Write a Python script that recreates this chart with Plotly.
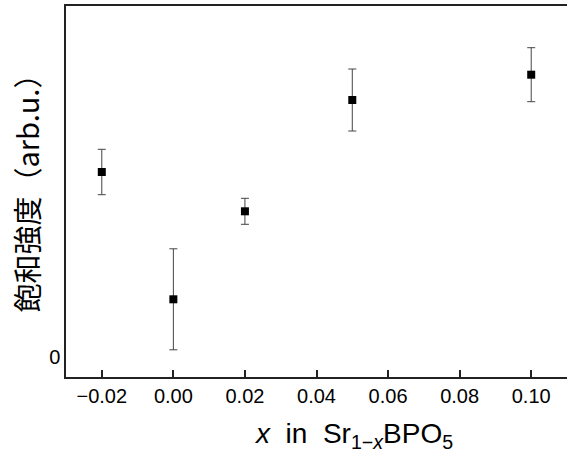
import plotly.graph_objects as go

x_vals = [-0.02, 0.00, 0.02, 0.05, 0.10]
intensity = [1.85, 0.577, 1.457, 2.57, 2.823]
err = [0.227, 0.505, 0.13, 0.31, 0.27]
x_ticks = [-0.02, 0.00, 0.02, 0.04, 0.06, 0.08, 0.10]
x_ticktext = ["\u22120.02", "0.00", "0.02", "0.04", "0.06", "0.08", "0.10"]

fig = go.Figure()
fig.add_trace(go.Scatter(
    x=x_vals, y=intensity, mode="markers",
    marker=dict(symbol="square", size=8, color="black"),
    error_y=dict(type="data", array=err, visible=True, color="#444", thickness=1, width=4),
    showlegend=False,
))

W, H = 567, 457
ml, mr, mt, mb = 66, 0, 6, 80
fig.update_layout(
    width=W, height=H,
    margin=dict(l=ml, r=mr, t=mt, b=mb),
    paper_bgcolor="white", plot_bgcolor="white",
    font=dict(family="Liberation Sans, Arial, sans-serif", size=20, color="black"),
)
fig.update_xaxes(
    range=[-0.03, 0.11], tickvals=x_ticks, ticktext=x_ticktext,
    showgrid=False, zeroline=False,
    showline=True, linecolor="#222", linewidth=1.5, mirror=True,
    ticks="inside", ticklen=7, tickwidth=1.5, tickcolor="#222",
    tickfont=dict(size=20),
)
fig.update_yaxes(
    range=[-0.20, 3.51], tickvals=[0], ticktext=["0"],
    showgrid=False, zeroline=False,
    showline=True, linecolor="#222", linewidth=1.5,
    ticks="", tickfont=dict(size=20),
)

pw = W - ml - mr
ph = H - mt - mb
fig.add_annotation(
    text="飽和強度（arb.u.）", textangle=-90,
    xref="paper", yref="paper",
    x=(25 - ml) / pw, y=(H - mb - 186.5) / ph,
    xanchor="center", yanchor="middle", showarrow=False,
    font=dict(family="Noto Sans CJK JP", size=29, color="black"),
)
fig.add_annotation(
    text="<i>x</i>  in  Sr<sub>1\u2212<i>x</i></sub>BPO<sub>5</sub>",
    xref="paper", yref="paper",
    x=(353 - ml) / pw, y=(H - mb - 435) / ph,
    xanchor="center", yanchor="middle", showarrow=False,
    font=dict(family="Liberation Sans Narrow, Arial Narrow, sans-serif", size=28, color="black"),
)

fig.write_html(
    "out.html",
    config={"displayModeBar": False},
    post_script="document.body.style.margin='0';document.body.style.overflow='hidden';",
)
